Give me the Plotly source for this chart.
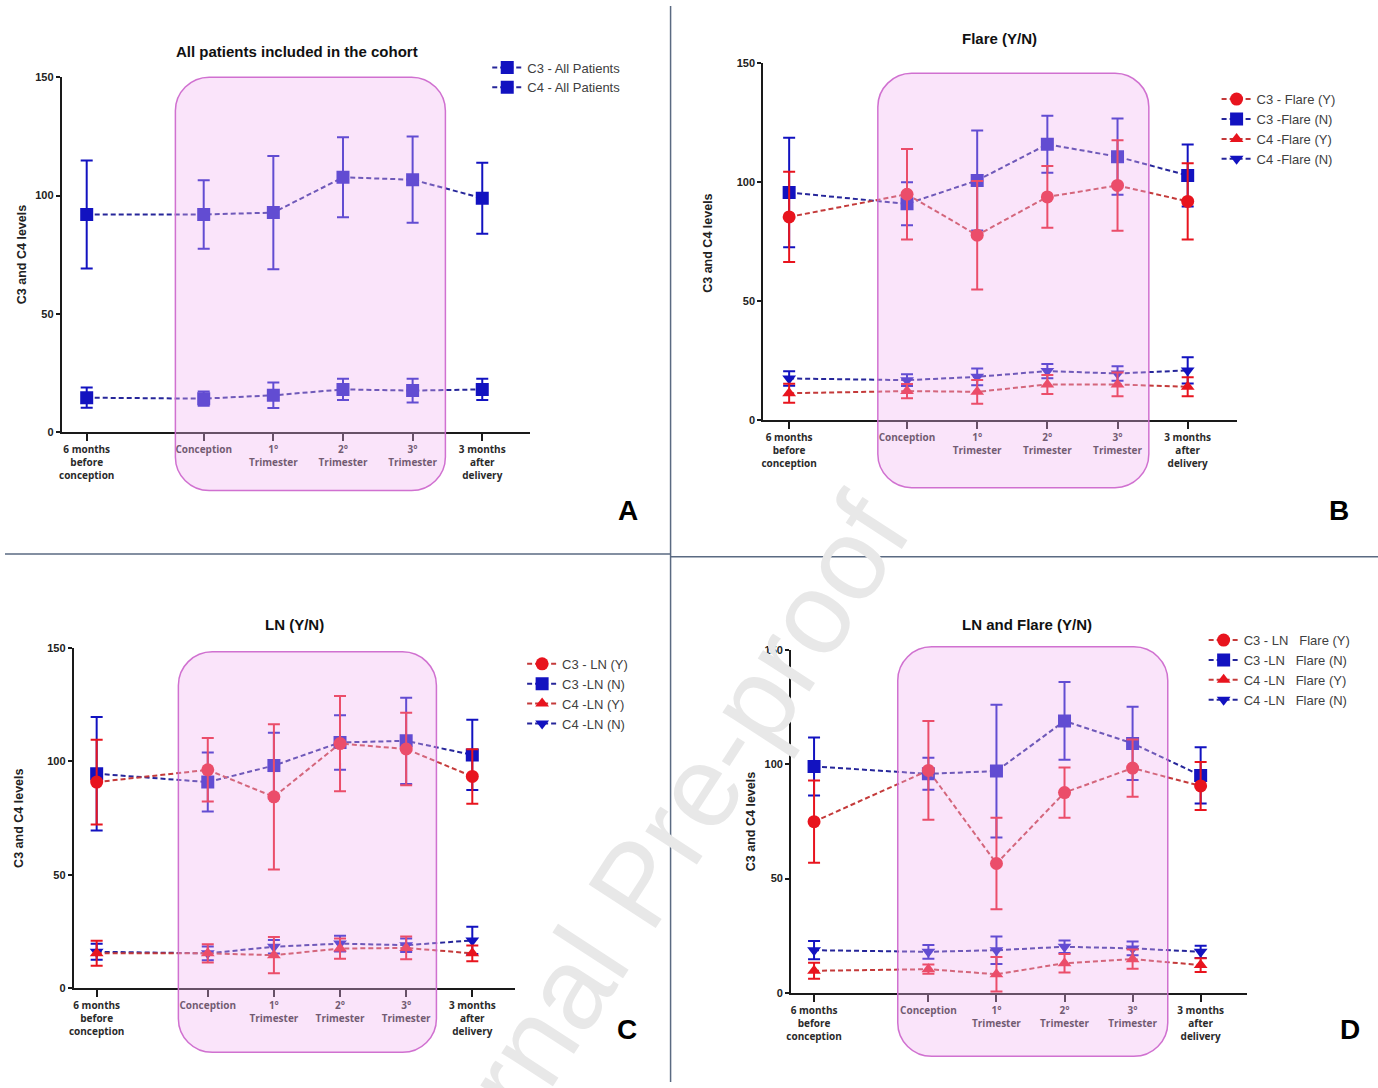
import plotly.graph_objects as go

W, H = 1378, 1088

# ---------------- data ----------------
categories = ["6 months<br>before<br>conception", "Conception", "1°<br>Trimester",
              "2°<br>Trimester", "3°<br>Trimester", "3 months<br>after<br>delivery"]

# Panel A - all patients
a_c3_mean = [92.0, 92.0, 92.8, 107.7, 106.7, 98.9]
a_c3_sd = [22.8, 14.5, 23.9, 16.9, 18.2, 15.0]
a_c4_mean = [14.6, 14.2, 15.6, 18.1, 17.6, 18.1]
a_c4_sd = [4.3, 3.0, 5.4, 4.5, 5.0, 4.5]

# Panel B - Flare (Y/N)
b_c3_y_mean = [85.5, 95.0, 77.8, 93.9, 98.7, 92.0]
b_c3_y_sd = [19.0, 19.0, 22.8, 13.0, 19.0, 16.0]
b_c3_n_mean = [95.7, 91.0, 100.8, 116.0, 110.8, 102.9]
b_c3_n_sd = [23.0, 9.0, 21.0, 12.0, 16.0, 13.0]
b_c4_y_mean = [11.4, 12.3, 12.0, 15.1, 15.1, 14.1]
b_c4_y_sd = [4.0, 3.0, 5.0, 4.0, 5.0, 4.0]
b_c4_n_mean = [17.6, 16.9, 18.3, 20.7, 19.7, 21.0]
b_c4_n_sd = [3.0, 2.5, 3.5, 3.0, 3.0, 5.5]

# Panel C - LN (Y/N)
c_c3_y_mean = [90.8, 96.2, 84.3, 107.8, 105.4, 93.3]
c_c3_y_sd = [18.7, 14.0, 32.0, 21.0, 16.0, 12.0]
c_c3_n_mean = [94.5, 90.8, 98.1, 108.3, 109.0, 102.8]
c_c3_n_sd = [25.0, 13.0, 14.5, 12.0, 19.0, 15.5]
c_c4_y_mean = [15.3, 15.3, 14.5, 17.4, 17.7, 15.3]
c_c4_y_sd = [5.5, 4.0, 8.0, 4.5, 5.0, 3.5]
c_c4_n_mean = [16.0, 15.3, 18.2, 19.6, 18.9, 21.0]
c_c4_n_sd = [3.5, 3.0, 3.0, 3.5, 3.0, 6.0]

# Panel D - LN and Flare (Y/N)
d_c3_y_mean = [74.9, 97.3, 56.6, 87.6, 98.3, 90.5]
d_c3_y_sd = [18.0, 21.6, 20.0, 11.0, 12.5, 10.5]
d_c3_n_mean = [99.0, 95.8, 97.0, 118.9, 109.1, 95.1]
d_c3_n_sd = [12.7, 7.0, 29.0, 17.0, 16.0, 12.3]
d_c4_y_mean = [9.7, 10.4, 8.2, 13.0, 14.8, 12.2]
d_c4_y_sd = [3.5, 2.0, 7.5, 4.0, 4.2, 3.0]
d_c4_n_mean = [18.7, 18.0, 18.7, 20.2, 19.5, 18.0]
d_c4_n_sd = [4.0, 3.0, 6.0, 2.7, 3.0, 2.7]

# ---------------- layout constants ----------------
x_pos = [0, 1.68, 2.68, 3.68, 4.68, 5.68]   # category positions (gap before conception)

BLUE = "#1212c0"
RED = "#e8141e"
BLUE_LINE = "#26269a"
RED_LINE = "#c43a3a"
DASH = "5px,3px"


def fx(p):
    return p / W


def fy(p):
    return 1 - p / H


panels = [
    dict(ax_l=57, ax_r=527, c0=82, c5=479, y150=72, y0=431, box=(171, 442, 72, 490),
         title="All patients included in the cohort", tpos=(293, 46), ytpos=(17, 251),
         letter="A", lpos=(625, 510), leg=(484, 47)),
    dict(ax_l=761, ax_r=1236, c0=787, c5=1187, y150=58, y0=419, box=(876, 1148, 68, 487),
         title="Flare (Y/N)", tpos=(998, 33), ytpos=(706, 240),
         letter="B", lpos=(1339, 510), leg=(1216, 79)),
    dict(ax_l=69, ax_r=512, c0=92, c5=469, y150=649, y0=993, box=(174, 433, 653, 1058),
         title="LN (Y/N)", tpos=(291, 625), ytpos=(14, 821),
         letter="C", lpos=(624, 1035), leg=(519, 650)),
    dict(ax_l=789, ax_r=1247, c0=812, c5=1200, y150=651, y0=998, box=(896, 1167, 648, 1062),
         title="LN and Flare (Y/N)", tpos=(1026, 625), ytpos=(749, 825),
         letter="D", lpos=(1350, 1035), leg=(1203, 626)),
]

fig = go.Figure()


def add_series(i, name, mean, sd, symbol, color, lcolor, size, rank):
    sfx = "" if i == 0 else str(i + 1)
    fig.add_trace(go.Scatter(
        x=x_pos, y=mean, name=name, mode="lines+markers",
        xaxis="x" + sfx, yaxis="y" + sfx, legend="legend" + sfx, legendrank=rank,
        marker=dict(symbol=symbol, size=size, color=color),
        line=dict(color=lcolor, width=2, dash=DASH),
        error_y=dict(type="data", array=sd, symmetric=True, color=color, thickness=2, width=6),
    ))


# Panel A
add_series(0, "C3 - All Patients", a_c3_mean, a_c3_sd, "square", BLUE, BLUE_LINE, 13, 1)
add_series(0, "C4 - All Patients", a_c4_mean, a_c4_sd, "square", BLUE, BLUE_LINE, 13, 2)
# Panel B
add_series(1, "C3 -Flare (N)", b_c3_n_mean, b_c3_n_sd, "square", BLUE, BLUE_LINE, 13, 2)
add_series(1, "C4 -Flare (N)", b_c4_n_mean, b_c4_n_sd, "triangle-down", BLUE, BLUE_LINE, 12, 4)
add_series(1, "C3 - Flare (Y)", b_c3_y_mean, b_c3_y_sd, "circle", RED, RED_LINE, 13, 1)
add_series(1, "C4 -Flare (Y)", b_c4_y_mean, b_c4_y_sd, "triangle-up", RED, RED_LINE, 12, 3)
# Panel C
add_series(2, "C3 -LN (N)", c_c3_n_mean, c_c3_n_sd, "square", BLUE, BLUE_LINE, 13, 2)
add_series(2, "C4 -LN (N)", c_c4_n_mean, c_c4_n_sd, "triangle-down", BLUE, BLUE_LINE, 12, 4)
add_series(2, "C3 - LN (Y)", c_c3_y_mean, c_c3_y_sd, "circle", RED, RED_LINE, 13, 1)
add_series(2, "C4 -LN (Y)", c_c4_y_mean, c_c4_y_sd, "triangle-up", RED, RED_LINE, 12, 3)
# Panel D
sp = "\u00a0\u00a0 "
add_series(3, "C3 -LN" + sp + "Flare (N)", d_c3_n_mean, d_c3_n_sd, "square", BLUE, BLUE_LINE, 13, 2)
add_series(3, "C4 -LN" + sp + "Flare (N)", d_c4_n_mean, d_c4_n_sd, "triangle-down", BLUE, BLUE_LINE, 12, 4)
add_series(3, "C3 - LN" + sp + "Flare (Y)", d_c3_y_mean, d_c3_y_sd, "circle", RED, RED_LINE, 13, 1)
add_series(3, "C4 -LN" + sp + "Flare (Y)", d_c4_y_mean, d_c4_y_sd, "triangle-up", RED, RED_LINE, 12, 3)

layout = dict(
    width=W, height=H, autosize=False,
    margin=dict(l=0, r=0, t=0, b=0),
    paper_bgcolor="white", plot_bgcolor="rgba(0,0,0,0)",
    font=dict(family="Liberation Sans, Arial, sans-serif", color="#222"),
    showlegend=True,
)

shapes = []
annotations = []


def rrect(x0, x1, y0, y1, r):
    k = 0.5523
    rx, ry = r / W, r / H
    X0, X1, Yt, Yb = fx(x0), fx(x1), fy(y0), fy(y1)
    return (f"M{X0+rx},{Yt} L{X1-rx},{Yt} "
            f"C{X1-rx+k*rx},{Yt} {X1},{Yt-ry+k*ry} {X1},{Yt-ry} "
            f"L{X1},{Yb+ry} "
            f"C{X1},{Yb+ry-k*ry} {X1-rx+k*rx},{Yb} {X1-rx},{Yb} "
            f"L{X0+rx},{Yb} "
            f"C{X0+rx-k*rx},{Yb} {X0},{Yb+ry-k*ry} {X0},{Yb+ry} "
            f"L{X0},{Yt-ry} "
            f"C{X0},{Yt-ry+k*ry} {X0+rx-k*rx},{Yt} {X0+rx},{Yt} Z")


for i, p in enumerate(panels):
    sfx = "" if i == 0 else str(i + 1)
    unit = (p["c5"] - p["c0"]) / (x_pos[-1] - x_pos[0])
    xr = [x_pos[0] - (p["c0"] - p["ax_l"]) / unit, x_pos[0] + (p["ax_r"] - p["c0"]) / unit]
    layout["xaxis" + sfx] = dict(
        domain=[fx(p["ax_l"]), fx(p["ax_r"])], range=xr, anchor="y" + sfx,
        tickvals=x_pos, ticktext=categories, showgrid=False, zeroline=False,
        showline=True, linecolor="#1a1a1a", linewidth=2,
        ticks="outside", ticklen=7, tickwidth=2, tickcolor="#1a1a1a",
        tickfont=dict(family="Open Sans, sans-serif", size=10, color="#2a2a2a", weight="bold"),
        fixedrange=True,
    )
    layout["yaxis" + sfx] = dict(
        domain=[fy(p["y0"]), fy(p["y150"])], range=[0, 150], anchor="x" + sfx,
        tickvals=[0, 50, 100, 150], showgrid=False, zeroline=False,
        showline=True, linecolor="#1a1a1a", linewidth=2,
        ticks="outside", ticklen=4, tickwidth=2, tickcolor="#1a1a1a",
        tickfont=dict(family="Liberation Sans, Arial, sans-serif", size=11, color="#222", weight="bold"),
        fixedrange=True,
    )
    layout["legend" + sfx] = dict(
        x=fx(p["leg"][0]), y=fy(p["leg"][1]), xanchor="left", yanchor="top",
        bgcolor="rgba(0,0,0,0)", borderwidth=0, itemwidth=30,
        font=dict(family="Liberation Sans, Arial, sans-serif", size=13, color="#404040"),
        tracegroupgap=0,
    )
    bx0, bx1, by0, by1 = p["box"]
    shapes.append(dict(type="path", path=rrect(bx0, bx1, by0, by1, 34), xref="paper", yref="paper",
                       layer="above", fillcolor="rgba(240,180,240,0.36)",
                       line=dict(color="rgba(205,105,205,0.95)", width=1.5)))
    annotations.append(dict(text=p["title"], x=fx(p["tpos"][0]), y=fy(p["tpos"][1]),
                            xref="paper", yref="paper", showarrow=False,
                            xanchor="center", yanchor="middle",
                            font=dict(size=15, color="#111", weight="bold",
                                      family="Liberation Sans, Arial, sans-serif")))
    annotations.append(dict(text="C3 and C4 levels", x=fx(p["ytpos"][0]), y=fy(p["ytpos"][1]),
                            xref="paper", yref="paper", showarrow=False, textangle=-90,
                            xanchor="center", yanchor="middle",
                            font=dict(size=12.5, color="#222", weight="bold",
                                      family="Liberation Sans, Arial, sans-serif")))
    annotations.append(dict(text=p["letter"], x=fx(p["lpos"][0]), y=fy(p["lpos"][1]),
                            xref="paper", yref="paper", showarrow=False,
                            xanchor="center", yanchor="middle",
                            font=dict(size=28, color="#000", weight="bold",
                                      family="Liberation Sans, Arial, sans-serif")))

# separator lines between panels
sep = dict(color="#5a6a82", width=1.5)
shapes.append(dict(type="line", xref="paper", yref="paper", x0=fx(668), x1=fx(668), y0=0, y1=1,
                   line=sep, layer="below"))
shapes.append(dict(type="line", xref="paper", yref="paper", x0=0, x1=fx(668), y0=fy(554), y1=fy(554),
                   line=sep, layer="below"))
shapes.append(dict(type="line", xref="paper", yref="paper", x0=fx(668), x1=1, y0=fy(557), y1=fy(557),
                   line=sep, layer="below"))

# watermark
annotations.append(dict(text="Journal Pre-proof", x=fx(634), y=fy(888), xref="paper", yref="paper",
                        showarrow=False, textangle=-57, xanchor="center", yanchor="middle",
                        font=dict(size=116, color="#e8e8e8",
                                  family="Liberation Sans, Arial, sans-serif")))

layout["shapes"] = shapes
layout["annotations"] = annotations
fig.update_layout(**layout)

fig.write_html("out.html",
               config={"displayModeBar": False},
               post_script="document.body.style.margin='0px';"
                           "document.documentElement.style.overflow='hidden';"
                           "document.body.style.overflow='hidden';")
